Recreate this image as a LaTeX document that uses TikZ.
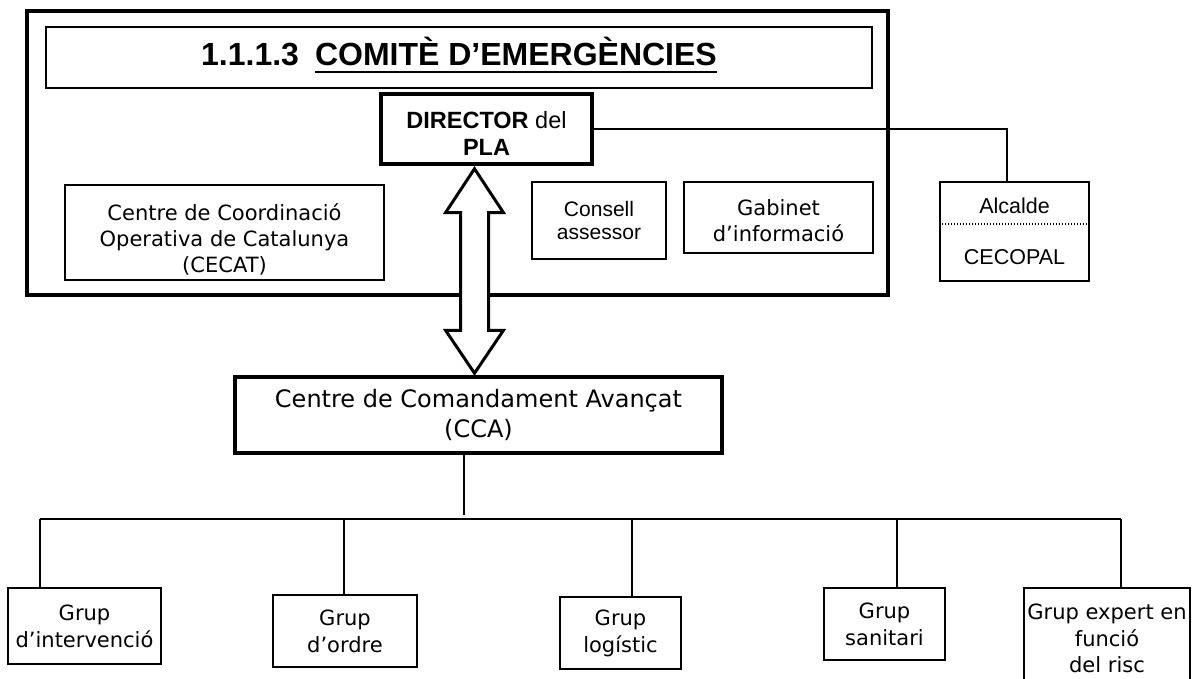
\documentclass[tikz,border=0pt]{standalone}
\usepackage{fontspec}
\setmainfont{Liberation Sans}
\newfontfamily\verd{DejaVu Sans}
\usetikzlibrary{calc}
\newcommand\ulx[1]{\setbox0\hbox{#1}\rlap{\rule[-3.75pt]{\wd0}{1.2pt}}\box0}
\newcommand\padtop[1]{\rule{0pt}{#1}}
\tikzset{
  bx/.style={draw, line width=0.9pt, inner sep=0pt, align=center},
  bxthick/.style={bx, line width=1.75pt},
  conn/.style={line width=0.85pt},
  blockarr/.style={draw, fill=white, line width=1.5pt, line join=miter},
  frm/.style={line width=2.25pt},
  vtxt/.style={font=\verd\fontsize{10.5}{13}\selectfont},
  gtxt/.style={font=\verd\fontsize{10.5}{13.5}\selectfont},
  atxt/.style={font=\fontsize{10.5}{11.5}\selectfont}
}
\begin{document}
\begin{tikzpicture}[x=0.5pt,y=-0.5pt]
\useasboundingbox (0,0) rectangle (1193,679);
% outer frame
\draw[frm] (27,11) rectangle (888,295);
% title
\node[bx, minimum width=413pt, minimum height=30.5pt, text height=11.5pt, text depth=3.5pt,
      font=\bfseries\fontsize{16}{18}\selectfont] (title) at (459,57.5)
      {1.1.1.3\hspace{8pt}\ulx{COMITÈ D’EMERGÈNCIES}};
% director
\node[bxthick, minimum width=105.5pt, minimum height=35pt, font=\fontsize{11.75}{13.5}\selectfont]
      (dir) at (486.5,129) {\padtop{13.5pt}\textbf{DIRECTOR} del\\\textbf{PLA}};
% inner boxes
\node[bx, vtxt, minimum width=159.5pt, minimum height=47.5pt] (cecat) at (224.5,232.5)
      {\padtop{15.5pt}Centre de Coordinació\\Operativa de Catalunya\\(CECAT)};
\node[bx, atxt, minimum width=67pt, minimum height=38.5pt] (cons) at (599,220.5) {Consell\\assessor};
\node[bx, vtxt, minimum width=94.5pt, minimum height=35.5pt] (gab) at (778.5,217.5) {\padtop{11pt}Gabinet\\d’informació};
% alcalde
\node[bx, font=\fontsize{10.75}{25.5}\selectfont, minimum width=74.5pt, minimum height=49.5pt]
      (al) at (1014.5,231.5) {Alcalde\\CECOPAL};
\draw[dash pattern=on 0.6pt off 0.9pt, line width=0.6pt] (al.west |- 0,224) -- (al.east |- 0,224);
% CCA
\node[bxthick, font=\verd\fontsize{12}{15}\selectfont, minimum width=243.5pt, minimum height=38pt]
      (cca) at (478.5,415) {Centre de Comandament Avançat\\(CCA)};
% groups
\node[bx, gtxt, minimum width=76.5pt, minimum height=38pt] (g1) at (84.5,626) {Grup\\d’intervenció};
\node[bx, gtxt, minimum width=72pt, minimum height=36pt] (g2) at (345,631) {Grup\\d’ordre};
\node[bx, gtxt, minimum width=60.5pt, minimum height=36pt] (g3) at (620.5,633) {Grup\\logístic};
\node[bx, gtxt, minimum width=60.5pt, minimum height=36pt] (g4) at (884.5,624) {Grup\\sanitari};
\node[bx, font=\verd\fontsize{10.5}{13.25}\selectfont, minimum width=83pt, minimum height=50.5pt]
      (g5) at (1107,638.5) {Grup expert en\\funció\\del risc};
% director -> alcalde
\coordinate (alin) at ($(al.north)+(-7.5,0)$);
\draw[conn] (dir.east) -| (alin);
% double block arrow
\coordinate (atop) at ($(dir.south -| 474.5,0)+(0,3)$);
\coordinate (abot) at ($(cca.north -| 474.5,0)+(0,-2)$);
\draw[blockarr] (atop) -- ++(29,44) -- ++(-15,0) -- ($(abot)+(14,-43)$) -- ++(15,0) -- (abot)
   -- ++(-29,-43) -- ++(15,0) -- ($(atop)+(-14,44)$) -- ++(-15,0) -- cycle;
% CCA -> bus
\coordinate (ccaout) at ($(cca.south -| 464,0)+(0,60)$);
\draw[conn] (cca.south -| 464,0) -- (ccaout);
\coordinate (b1) at (40,519);
\coordinate (b2) at (344,519);
\coordinate (b3) at (632,519);
\coordinate (b4) at (897,519);
\coordinate (b5) at (1121,519);
\draw[conn] (b1) -- (b5);
\draw[conn] (b1) -- (b1 |- g1.north);
\draw[conn] (b2) -- (b2 |- g2.north);
\draw[conn] (b3) -- (b3 |- g3.north);
\draw[conn] (b4) -- (b4 |- g4.north);
\draw[conn] (b5) -- (b5 |- g5.north);
\end{tikzpicture}
\end{document}
